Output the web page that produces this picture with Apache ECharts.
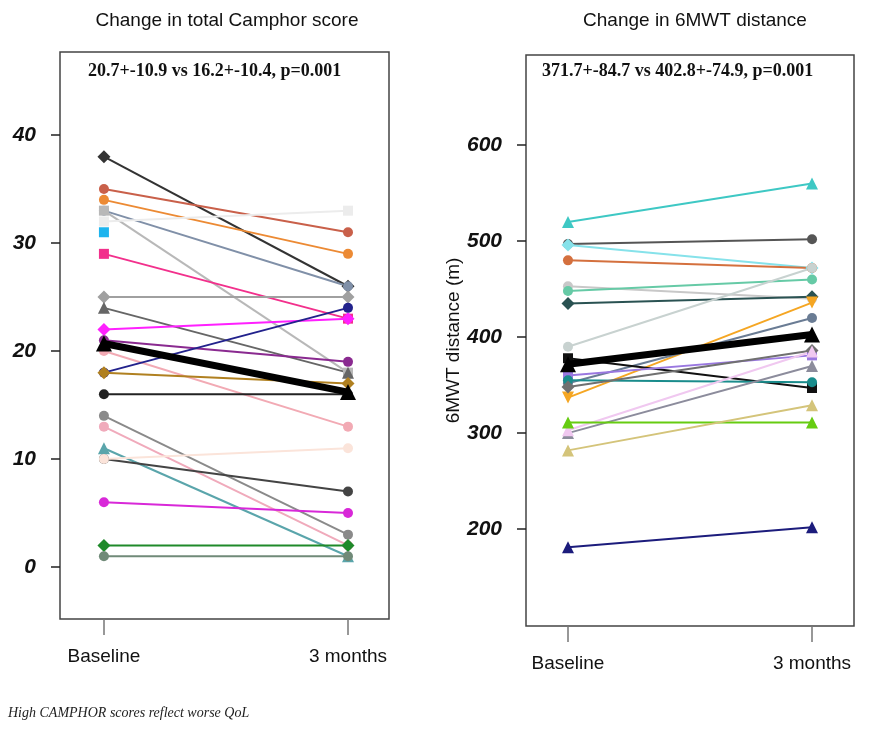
<!DOCTYPE html>
<html lang="en">
<head>
    <meta charset="UTF-8">
    <title>Change in Camphor score and 6MWT distance</title>
    <script src="https://cdn.jsdelivr.net/npm/echarts@6/dist/echarts.min.js"></script>
    <style>
        html, body { margin: 0; padding: 0; background: #fff; }
        #chart { width: 873px; height: 733px; }
    </style>
</head>
<body>
<div id="chart"></div>
<script>
    // time points
    var timeLabels = ['Baseline', '3 months'];

    // left panel: total Camphor score per patient
    var camphorBaseline = [38, 35, 34, 33, 33, 32, 31, 29, 25, 24, 22, 21, 20, 18, 18, 16, 14, 13, 11, 10, 10, 6, 2, 1];
    var camphor3Months  = [26, 31, 29, 26, 18, 33, null, 23, 25, 18, 23, 19, 13, 24, 17, 16, 3, 2, 1, 7, 11, 5, 2, 1];
    var camphorMean = [20.7, 16.2];
    var camphorTicks = [0, 10, 20, 30, 40];

    // right panel: 6MWT distance per patient
    var walkBaseline = [520, 497, 496, 480, 453, 448, 435, 390, 337, 352, 378, 360, 355, 348, 300, 303, 311, 282, 181];
    var walk3Months  = [560, 502, 472, 472, 440, 460, 442, 472, 436, 420, 347, 381, 353, 386, 370, 385, 311, 329, 202];
    var walkMean = [371.7, 402.8];
    var walkTicks = [200, 300, 400, 500, 600];

    // line styles (one per patient)
    var camphorColors = ['#333333', '#c9604a', '#ec8a34', '#8090a8', '#b8b8b8', '#ececec', '#1eb4ee', '#f2308c',
        '#a0a0a0', '#666666', '#ff20ff', '#8a2a90', '#f2aab4', '#22228c', '#b08020', '#222222', '#8a8a8a',
        '#f0aabb', '#5aa5ab', '#444444', '#fbe4da', '#d828d8', '#1f8a2a', '#708a78'];
    var camphorSymbols = ['diamond', 'circle', 'circle', 'circle', 'rect', 'rect', 'rect', 'rect', 'diamond',
        'triangle', 'diamond', 'circle', 'circle', 'circle', 'diamond', 'circle', 'circle', 'circle', 'triangle',
        'circle', 'circle', 'circle', 'diamond', 'circle'];
    var walkColors = ['#3ec8c4', '#555555', '#86e2ea', '#d4703e', '#c8c8c8', '#66caa6', '#2a5252', '#c8d2d0',
        '#f5a623', '#6a7c94', '#111111', '#9a78e0', '#1a8c8c', '#707070', '#8c8c9c', '#f0c8f0', '#66cc11',
        '#d4c47a', '#1c1c7c'];
    var walkSymbols = ['triangle', 'circle', 'diamond', 'circle', 'circle', 'circle', 'diamond', 'circle',
        'triangleDown', 'circle', 'rect', 'rect', 'circle', 'diamond', 'triangle', 'triangle', 'triangle',
        'triangle', 'triangle'];

    var symbolSizes = { circle: 10, rect: 10, triangle: 12, diamond: 13 };

    var chart = echarts.init(document.getElementById('chart'));

    function pairSeries(base, after, colors, symbols, axisIdx) {
        var out = [];
        for (var i = 0; i < base.length; i++) {
            var sym = symbols[i];
            var rot = 0;
            if (sym === 'triangleDown') { sym = 'triangle'; rot = 180; }
            out.push({
                type: 'line',
                xAxisIndex: axisIdx,
                yAxisIndex: axisIdx,
                data: [[1, base[i]], [2, after[i]]],
                symbol: sym,
                symbolRotate: rot,
                symbolSize: symbolSizes[sym],
                showSymbol: true,
                lineStyle: { color: colors[i], width: 2 },
                itemStyle: { color: colors[i] },
                silent: true,
                z: 2
            });
        }
        return out;
    }

    function meanSeries(vals, axisIdx) {
        return {
            type: 'line',
            xAxisIndex: axisIdx,
            yAxisIndex: axisIdx,
            data: [[1, vals[0]], [2, vals[1]]],
            symbol: 'triangle',
            symbolSize: 16,
            lineStyle: { color: '#000', width: 7 },
            itemStyle: { color: '#000' },
            silent: true,
            z: 5
        };
    }

    var xLabelStyle = {
        customValues: [1, 2],
        formatter: function (v) { return timeLabels[Math.round(v) - 1]; },
        fontFamily: 'Liberation Sans',
        fontSize: 19,
        color: '#111',
        margin: 28
    };
    var yLabelStyle = {
        fontFamily: 'Liberation Sans',
        fontSize: 21,
        fontWeight: 'bold',
        fontStyle: 'italic',
        color: '#111',
        margin: 24
    };

    var series = [].concat(
        pairSeries(camphorBaseline, camphor3Months, camphorColors, camphorSymbols, 0),
        [meanSeries(camphorMean, 0)],
        pairSeries(walkBaseline, walk3Months, walkColors, walkSymbols, 1),
        [meanSeries(walkMean, 1)]
    );

    chart.setOption({
        animation: false,
        backgroundColor: '#fff',
        title: [
            {
                text: 'Change in total Camphor score',
                left: 222, top: 6, textAlign: 'center',
                textStyle: { fontFamily: 'Liberation Sans', fontSize: 19, fontWeight: 'normal', color: '#111' }
            },
            {
                text: 'Change in 6MWT distance',
                left: 690, top: 6, textAlign: 'center',
                textStyle: { fontFamily: 'Liberation Sans', fontSize: 19, fontWeight: 'normal', color: '#111' }
            }
        ],
        graphic: [
            {
                type: 'text', left: 88, top: 62,
                style: { text: '20.7+-10.9 vs 16.2+-10.4, p=0.001', font: 'bold 18px "Liberation Serif"', fill: '#111' }
            },
            {
                type: 'text', left: 542, top: 62,
                style: { text: '371.7+-84.7 vs 402.8+-74.9, p=0.001', font: 'bold 18px "Liberation Serif"', fill: '#111' }
            },
            {
                type: 'text', left: 8, top: 706,
                style: { text: 'High CAMPHOR scores reflect worse QoL', font: 'italic 14px "Liberation Serif"', fill: '#222' }
            }
        ],
        grid: [
            { left: 60, top: 52, width: 329, height: 567, show: true, borderColor: '#444', borderWidth: 1.5, backgroundColor: '#fff' },
            { left: 526, top: 55, width: 328, height: 571, show: true, borderColor: '#444', borderWidth: 1.5, backgroundColor: '#fff' }
        ],
        xAxis: [
            {
                type: 'value', gridIndex: 0, min: 0.82, max: 2.168,
                axisLine: { show: false, onZero: false },
                axisTick: { show: true, customValues: [1, 2], length: 16, lineStyle: { color: '#777', width: 1.5 } },
                axisLabel: xLabelStyle,
                splitLine: { show: false }
            },
            {
                type: 'value', gridIndex: 1, min: 0.828, max: 2.172,
                axisLine: { show: false, onZero: false },
                axisTick: { show: true, customValues: [1, 2], length: 16, lineStyle: { color: '#777', width: 1.5 } },
                axisLabel: xLabelStyle,
                splitLine: { show: false }
            }
        ],
        yAxis: [
            {
                type: 'value', gridIndex: 0, min: -4.81, max: 47.69,
                axisLine: { show: false, onZero: false },
                axisTick: { show: true, customValues: camphorTicks, length: 9, lineStyle: { color: '#222', width: 1.5 } },
                axisLabel: Object.assign({ customValues: camphorTicks }, yLabelStyle),
                splitLine: { show: false }
            },
            {
                type: 'value', gridIndex: 1, min: 99, max: 694,
                name: '6MWT distance (m)',
                nameLocation: 'middle',
                nameRotate: 90,
                nameGap: 60,
                nameTextStyle: { fontFamily: 'Liberation Sans', fontSize: 19, color: '#111' },
                axisLine: { show: false, onZero: false },
                axisTick: { show: true, customValues: walkTicks, length: 9, lineStyle: { color: '#222', width: 1.5 } },
                axisLabel: Object.assign({ customValues: walkTicks }, yLabelStyle),
                splitLine: { show: false }
            }
        ],
        series: series
    });
</script>
</body>
</html>
